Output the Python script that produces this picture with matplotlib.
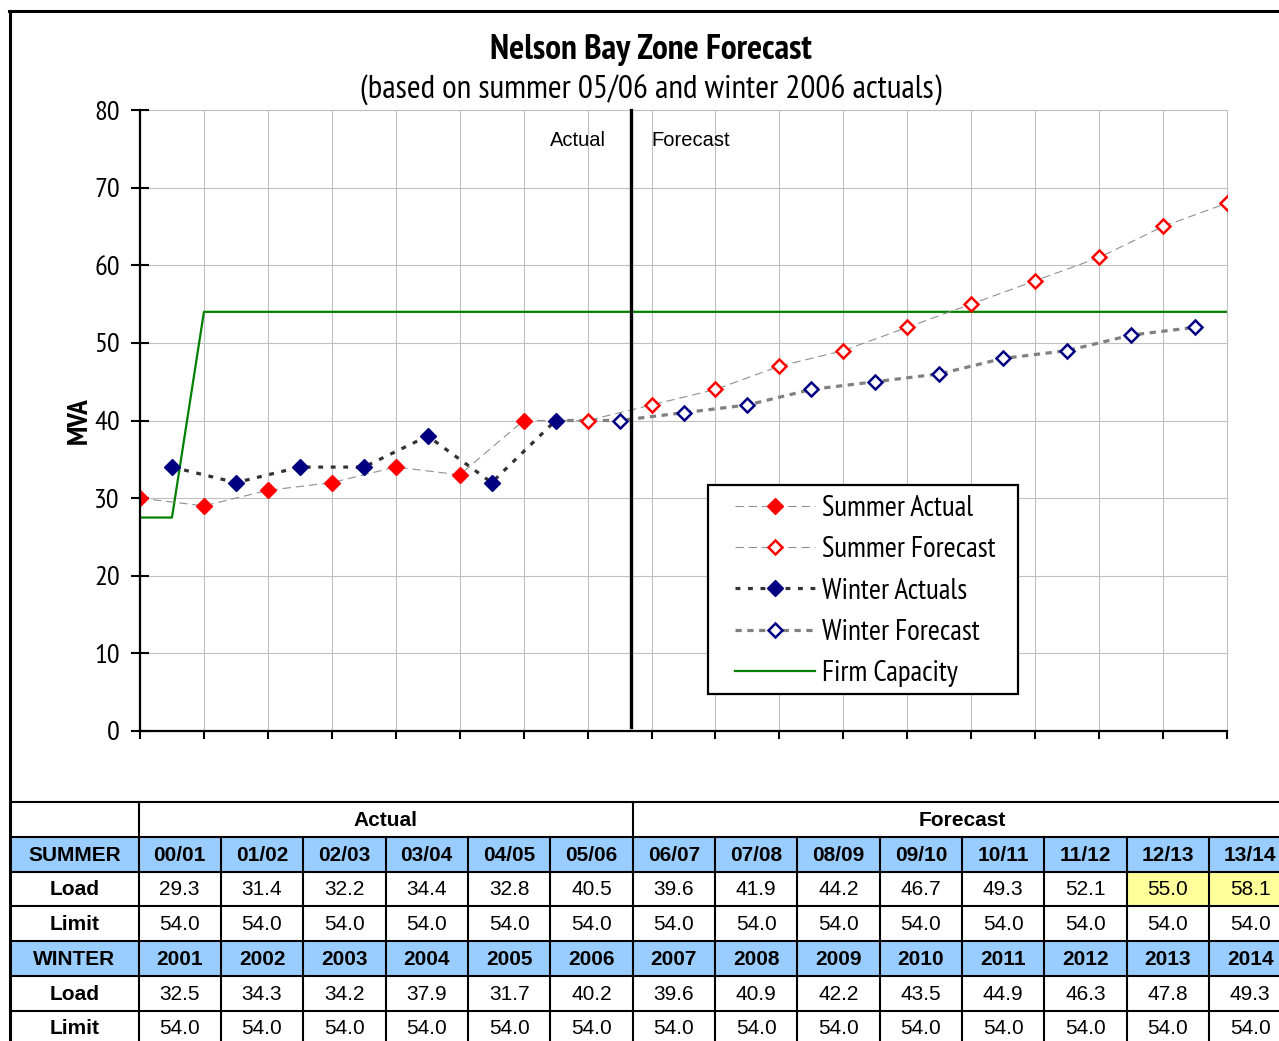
import matplotlib
matplotlib.use('Agg')
import matplotlib.pyplot as plt
from matplotlib.lines import Line2D
from matplotlib.patches import Rectangle
from matplotlib import font_manager

plt.rcParams['lines.scale_dashes'] = False

# ---------------- chart data ----------------
summer_x_actual = [0, 1, 2, 3, 4, 5, 6]
summer_actual = [30, 29, 31, 32, 34, 33, 40]
summer_x_fc = [7, 8, 9, 10, 11, 12, 13, 14, 15, 16, 17]
summer_fc = [40, 42, 44, 47, 49, 52, 55, 58, 61, 65, 68]
winter_x_actual = [0.5, 1.5, 2.5, 3.5, 4.5, 5.5, 6.5]
winter_actual = [34, 32, 34, 34, 38, 32, 40]
winter_x_fc = [7.5, 8.5, 9.5, 10.5, 11.5, 12.5, 13.5, 14.5, 15.5, 16.5]
winter_fc = [40, 41, 42, 44, 45, 46, 48, 49, 51, 52]
firm_x = [0, 0.5, 1, 17]
firm_capacity = [27.5, 27.5, 54, 54]
divider_x = 7.68

# ---------------- table data ----------------
summer_years = ['00/01', '01/02', '02/03', '03/04', '04/05', '05/06', '06/07',
                '07/08', '08/09', '09/10', '10/11', '11/12', '12/13', '13/14']
summer_load = [29.3, 31.4, 32.2, 34.4, 32.8, 40.5, 39.6, 41.9, 44.2, 46.7, 49.3, 52.1, 55.0, 58.1]
summer_limit = [54.0] * 14
winter_years = ['2001', '2002', '2003', '2004', '2005', '2006', '2007',
                '2008', '2009', '2010', '2011', '2012', '2013', '2014']
winter_load = [32.5, 34.3, 34.2, 37.9, 31.7, 40.2, 39.6, 40.9, 42.2, 43.5, 44.9, 46.3, 47.8, 49.3]
winter_limit = [54.0] * 14
n_actual_cols = 6

names = {f.name for f in font_manager.fontManager.ttflist}
NARROW = ['PT Sans Narrow', 'DejaVu Sans'] if 'PT Sans Narrow' in names else ['DejaVu Sans']
REG = ['Liberation Sans', 'DejaVu Sans']

W, H = 1279, 1041
fig = plt.figure(figsize=(W / 100, H / 100), dpi=100)

def fx(px):
    return px / W

def fy(py):
    return 1 - py / H

RED = '#FF0000'
NAVY = '#000080'
GREEN = '#008000'

ax = fig.add_axes([fx(140), fy(731), fx(1227) - fx(140), fy(110) - fy(731)])
ax.set_xlim(0, 17)
ax.set_ylim(0, 80)
ax.set_xticks(range(0, 18))
ax.set_yticks(range(0, 81, 10))
ax.set_xticklabels([])
ax.set_yticklabels([str(v) for v in range(0, 81, 10)], family=NARROW, fontsize=20.5)
ax.tick_params(axis='y', direction='inout', length=13, width=1.5, pad=8)
ax.tick_params(axis='x', direction='out', length=6, width=1.5)
for s in ['top', 'right']:
    ax.spines[s].set_visible(False)
for s in ['left', 'bottom']:
    ax.spines[s].set_linewidth(1.6)
    ax.spines[s].set_zorder(6)
ax.grid(True, color='#C0C0C0', lw=0.8)
ax.set_axisbelow(True)
for gl in ax.get_xgridlines() + ax.get_ygridlines():
    gl.set_clip_on(False)

# divider
ax.plot([divider_x, divider_x], [0.5, 80], color='black', lw=2.4, zorder=5, clip_on=False)
ax.text(divider_x - 0.4, 76.1, 'Actual', ha='right', va='center', family=REG, fontsize=14.5)
ax.text(divider_x + 0.32, 76.1, 'Forecast', ha='left', va='center', family=REG, fontsize=14.5)

# firm capacity
ax.plot(firm_x, firm_capacity, color=GREEN, lw=1.6, zorder=3, label='Firm Capacity')

summer_dash = (0, (6, 3.5))
wa_dash = (0, (3.5, 5.5))
wf_dash = (0, (4.5, 4))
MS_F, MS_O, MEW_O = 8.4, 6.8, 1.8

# summer
ax.plot(summer_x_actual, summer_actual, color='#909090', lw=0.8, linestyle=summer_dash,
        marker='D', ms=MS_F, mfc=RED, mec=RED, mew=1, zorder=4, label='Summer Actual')
ax.plot([summer_x_actual[-1]] + summer_x_fc, [summer_actual[-1]] + summer_fc, color='#909090',
        lw=0.8, linestyle=summer_dash, zorder=3)
ax.plot(summer_x_fc, summer_fc, linestyle='none', marker='D', ms=MS_O, mfc='white',
        mec=RED, mew=MEW_O, zorder=4, label='Summer Forecast')

# winter
ax.plot(winter_x_actual, winter_actual, color='#333333', lw=2.3, linestyle=wa_dash,
        marker='D', ms=MS_F, mfc=NAVY, mec=NAVY, mew=1, zorder=4, label='Winter Actuals')
ax.plot([winter_x_actual[-1]] + winter_x_fc, [winter_actual[-1]] + winter_fc, color='#808080',
        lw=2.3, linestyle=wf_dash, zorder=3)
ax.plot(winter_x_fc, winter_fc, linestyle='none', marker='D', ms=MS_O, mfc='white',
        mec=NAVY, mew=MEW_O, zorder=4, label='Winter Forecast')

ax.set_ylabel('MVA', family=NARROW, fontsize=21, fontweight='bold', labelpad=1)

# ---------------- table / overlay axes ----------------
tab = fig.add_axes([0, 0, 1, 1])
tab.set_xlim(0, W)
tab.set_ylim(H, 0)
tab.axis('off')
tab.patch.set_alpha(0)

# legend box
tab.add_patch(Rectangle((708, 485), 310, 209, facecolor='white', edgecolor='black', lw=1.6, zorder=2))

h_sa = Line2D([], [], color='#909090', lw=0.8, linestyle=summer_dash, marker='D', ms=MS_F, mfc=RED, mec=RED)
h_sf = Line2D([], [], color='#909090', lw=0.8, linestyle=summer_dash, marker='D', ms=MS_O, mfc='white', mec=RED, mew=MEW_O)
h_wa = Line2D([], [], color='#333333', lw=2.3, linestyle=wa_dash, marker='D', ms=MS_F, mfc=NAVY, mec=NAVY)
h_wf = Line2D([], [], color='#808080', lw=2.3, linestyle=wf_dash, marker='D', ms=MS_O, mfc='white', mec=NAVY, mew=MEW_O)
h_fc = Line2D([], [], color=GREEN, lw=1.6)
leg = fig.legend([h_sa, h_sf, h_wa, h_wf, h_fc],
                 ['Summer Actual', 'Summer Forecast', 'Winter Actuals', 'Winter Forecast', 'Firm Capacity'],
                 loc='upper left', bbox_to_anchor=(fx(735), fy(495)), prop={'family': NARROW, 'size': 21},
                 handlelength=2.74, handletextpad=0.24, labelspacing=0.49, borderpad=0,
                 borderaxespad=0, frameon=False)

# titles
fig.text(fx(651), fy(50), 'Nelson Bay Zone Forecast', ha='center', va='center',
         family=NARROW, fontsize=25.5, fontweight='bold')
fig.text(fx(651), fy(90.5), '(based on summer 05/06 and winter 2006 actuals)', ha='center', va='center',
         family=NARROW, fontsize=24)

x_left = 10
x_first = 138.5
colw = 82.35
row_top = 802
rowh = 34.75
BLUE = '#99CCFF'
YELLOW = '#FFFF99'
n = len(summer_years)
x_right = x_first + colw * n
LW = 1.5

rows = [
    ('SUMMER', summer_years, True, None),
    ('Load', [f'{v:.1f}' for v in summer_load], False, summer_load),
    ('Limit', [f'{v:.1f}' for v in summer_limit], False, None),
    ('WINTER', winter_years, True, None),
    ('Load', [f'{v:.1f}' for v in winter_load], False, None),
    ('Limit', [f'{v:.1f}' for v in winter_limit], False, None),
]

for r, (label, vals, header, highlight_src) in enumerate(rows):
    top = row_top + rowh * (r + 1)
    cy = top + rowh / 2 + 1
    if header:
        tab.add_patch(Rectangle((x_left, top), x_right - x_left, rowh, facecolor=BLUE, edgecolor='none', zorder=1))
    tab.text((x_left + x_first) / 2, cy, label, ha='center', va='center', family=REG,
             fontsize=15, fontweight='bold', zorder=3)
    for i, v in enumerate(vals):
        cx = x_first + colw * (i + 0.5)
        if highlight_src is not None and highlight_src[i] > summer_limit[i]:
            tab.add_patch(Rectangle((x_first + colw * i, top), colw, rowh, facecolor=YELLOW,
                                    edgecolor='none', zorder=1))
        tab.text(cx, cy, v, ha='center', va='center', family=REG, fontsize=15,
                 fontweight='bold' if header else 'normal', zorder=3)

# group header
tab.text(x_first + colw * n_actual_cols / 2, row_top + rowh / 2 + 1, 'Actual', ha='center', va='center',
         family=REG, fontsize=15, fontweight='bold')
tab.text(x_first + colw * n_actual_cols + colw * (n - n_actual_cols) / 2, row_top + rowh / 2 + 1,
         'Forecast', ha='center', va='center', family=REG, fontsize=15, fontweight='bold')

# grid lines of the table
for k in range(0, 8):
    y = row_top + rowh * k
    tab.plot([x_left, x_right], [y, y], color='black', lw=LW, zorder=4, solid_capstyle='butt')
tab.plot([x_first, x_first], [row_top, H + 5], color='black', lw=LW, zorder=4)
x_mid = x_first + colw * n_actual_cols
tab.plot([x_mid, x_mid], [row_top, row_top + rowh], color='black', lw=LW, zorder=4)
for i in range(1, n + 1):
    x = x_first + colw * i
    tab.plot([x, x], [row_top + rowh, H + 5], color='black', lw=LW, zorder=4)

# outer frame
tab.plot([9, W + 10], [11, 11], color='black', lw=2.2, zorder=4, solid_capstyle='projecting')
tab.plot([9.5, 9.5], [11, H + 5], color='black', lw=2.2, zorder=4, solid_capstyle='projecting')

fig.savefig('out.png', dpi=100)
